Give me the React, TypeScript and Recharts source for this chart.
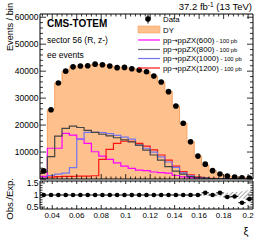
import React from 'react';
import { ComposedChart, Area, Line, Scatter, XAxis, YAxis, ErrorBar } from 'recharts';

const W = 266;
const H = 240;
const FONT = '"Liberation Sans", Arial, Helvetica, sans-serif';

// binning in xi
const binLow = 0.03;
const binWidth = 0.006;
const nBins = 29;
const xMax = 0.204;

// observed data (events / bin)
const dataCounts = [3000, 25700, 35600, 40000, 41600, 41900, 42000, 42600, 42400, 41900, 41300, 41400, 40900, 40400, 39800, 38200, 36000, 32400, 27100, 20700, 13800, 8500, 5500, 3100, 1850, 1100, 740, 480, 370];
// Drell-Yan expectation
const dyCounts = [3000, 25700, 35600, 40000, 41600, 41900, 42000, 42600, 42400, 41900, 41300, 41400, 40900, 40400, 39800, 38200, 36000, 32400, 27100, 20700, 13800, 8500, 5090, 3100, 1710, 1180, 780, 690, 450];
// signals, 100 pb
const sig600 = [1000, 11400, 11400, 16900, 16300, 14800, 13200, 10100, 8500, 7300, 6000, 4800, 3950, 3300, 3100, 2600, 2400, 2200, 1300, 800, 500, 300, 150, 80, 40, 20, 10, 5, 0];
const sig800 = [2500, 8300, 15900, 18800, 19600, 19100, 18000, 17300, 16600, 16000, 15300, 14500, 13800, 12600, 10700, 8900, 7000, 4600, 2900, 1800, 900, 500, 300, 150, 80, 40, 20, 10, 5];
const sig1000 = [300, 1300, 1800, 2200, 4200, 14800, 17300, 17300, 17200, 16800, 16200, 15500, 14800, 12500, 11400, 10000, 8200, 6300, 4300, 2300, 1200, 600, 300, 150, 80, 40, 20, 10, 5];
const sig1200 = [300, 700, 900, 1000, 1000, 1100, 1100, 1200, 7300, 11000, 13200, 14000, 14000, 13200, 12200, 10800, 8900, 7000, 4800, 2700, 1500, 800, 400, 200, 100, 50, 25, 10, 5];
// ratio panel
const ratioVals = [1, 1, 1, 1, 1, 1, 1, 1, 1, 1, 1, 1, 1, 1, 1, 1, 1, 1, 1, 1, 1, 1, 1.09, 1.0, 1.09, 0.92, 0.94, 0.68, 0.83];
const bandRel = [0.01, 0.01, 0.01, 0.01, 0.01, 0.01, 0.01, 0.01, 0.01, 0.01, 0.01, 0.01, 0.01, 0.01, 0.01, 0.01, 0.01, 0.01, 0.015, 0.02, 0.025, 0.03, 0.04, 0.05, 0.07, 0.09, 0.12, 0.16, 0.2];

// tick labels
const xMajor = [0.04, 0.06, 0.08, 0.1, 0.12, 0.14, 0.16, 0.18, 0.2];
const yMajor = [0, 10000, 20000, 30000, 40000, 50000, 60000];
const rMajor = [0.5, 1, 1.5];
const xMinorStep = 0.004;
const yMinorStep = 2000;
const rMinorStep = 0.1;

const xTicks = Array.from({ length: 43 }, (_, i) => Math.round((0.032 + xMinorStep * i) * 1e4) / 1e4);
const yTicks = Array.from({ length: 31 }, (_, i) => i * yMinorStep);
const rTicks = Array.from({ length: 11 }, (_, i) => Math.round((0.5 + rMinorStep * i) * 100) / 100);

const edges = Array.from({ length: nBins + 1 }, (_, k) => Math.round((binLow + binWidth * k) * 1e4) / 1e4);
const histTable = edges.map((x, k) => {
  const i = Math.min(k, nBins - 1);
  return { x, dy: dyCounts[i], s600: sig600[i], s800: sig800[i], s1000: sig1000[i], s1200: sig1200[i], band: [1 - bandRel[i], 1 + bandRel[i]] };
});
const pointsTable = dataCounts.map((y, i) => ({ x: binLow + binWidth * (i + 0.5), y }));
const ratioTable = ratioVals.map((y, i) => ({ x: binLow + binWidth * (i + 0.5), y, ex: binWidth / 2 }));

const findMajor = (v: number, arr: number[]) => arr.find((m) => Math.abs(m - v) < 1e-7);

const PEACH = '#fec08c';
const PEACH_EDGE = '#f5a260';
const C600 = '#ff00ff';
const C800 = '#454545';
const C1000 = '#7575f2';
const C1200 = '#ff1414';

type Side = 'bottom' | 'top' | 'left' | 'right';
const makeTick = (side: Side, majors: number[], majLen: number, minLen: number, labels: boolean, fmt?: (v: number) => string) =>
  (props: any) => {
    const { x, y, payload } = props;
    const v = payload.value;
    const maj = findMajor(v, majors);
    const isMaj = maj !== undefined;
    const len = isMaj ? majLen : minLen;
    let line;
    if (side === 'bottom') line = <line x1={x} y1={y} x2={x} y2={y - len} stroke="#000" strokeWidth={0.8} />;
    else if (side === 'top') line = <line x1={x} y1={y} x2={x} y2={y + len} stroke="#000" strokeWidth={0.8} />;
    else if (side === 'left') line = <line x1={x} y1={y} x2={x + len} y2={y} stroke="#000" strokeWidth={0.8} />;
    else line = <line x1={x} y1={y} x2={x - len} y2={y} stroke="#000" strokeWidth={0.8} />;
    let label = null;
    if (labels && isMaj) {
      const txt = fmt ? fmt(maj as number) : String(maj);
      if (side === 'bottom') label = <text x={x} y={y + 9} textAnchor="middle" fontSize={8} fontFamily={FONT} fill="#000">{txt}</text>;
      if (side === 'left') label = <text x={x - 1.5} y={y + 3} textAnchor="end" fontSize={8.5} fontFamily={FONT} fill="#000">{txt}</text>;
    }
    return <g>{line}{label}</g>;
  };

const dataDot = (props: any) => <circle cx={props.cx} cy={props.cy} r={2.8} fill="#000" />;
const ratioDot = (props: any) => <circle cx={props.cx} cy={props.cy} r={2.3} fill="#000" />;

const legendSignal = (mass: string) => (
  <>
    pp<tspan fontFamily='"DejaVu Sans", sans-serif' fontSize={7}>→</tspan>ppZX({mass})<tspan fontSize={5.8}> - 100 pb</tspan>
  </>
);

export default function App() {
  const axisLine = { stroke: '#000', strokeWidth: 1 };
  return (
    <div style={{ position: 'absolute', left: 0, top: 0, width: W, height: H, background: '#fff', fontFamily: FONT }}>
      <div style={{ position: 'absolute', left: 0, top: 0 }}>
        <ComposedChart width={W} height={H} data={histTable} margin={{ top: 0, right: 0, bottom: 0, left: 0 }}>
          <XAxis dataKey="x" type="number" domain={[binLow, xMax]} ticks={xTicks} interval={0} height={61} tickSize={0} tickMargin={0} tickLine={false} axisLine={axisLine} tick={makeTick('bottom', xMajor, 5, 2.5, false)} allowDataOverflow />
          <XAxis xAxisId="top" orientation="top" dataKey="x" type="number" domain={[binLow, xMax]} ticks={xTicks} interval={0} height={14} tickSize={0} tickMargin={0} tickLine={false} axisLine={axisLine} tick={makeTick('top', xMajor, 5, 2.5, false)} allowDataOverflow />
          <YAxis type="number" domain={[0, 61200]} ticks={yTicks} interval={0} width={40} tickSize={0} tickMargin={0} tickLine={false} axisLine={axisLine} tick={makeTick('left', yMajor, 6, 3, true, (v) => (v === 0 ? '' : String(v)))} allowDataOverflow />
          <YAxis yAxisId="right" orientation="right" type="number" domain={[0, 61200]} ticks={yTicks} interval={0} width={13} tickSize={0} tickMargin={0} tickLine={false} axisLine={axisLine} tick={makeTick('right', yMajor, 6, 3, false)} allowDataOverflow />
          <Area dataKey="dy" type="stepAfter" fill={PEACH} fillOpacity={1} stroke={PEACH_EDGE} strokeWidth={1} isAnimationActive={false} />
          <Line dataKey="s600" type="stepAfter" stroke={C600} strokeWidth={1.2} dot={false} isAnimationActive={false} />
          <Line dataKey="s1200" type="stepAfter" stroke={C1200} strokeWidth={1.2} dot={false} isAnimationActive={false} />
          <Line dataKey="s1000" type="stepAfter" stroke={C1000} strokeWidth={1.2} dot={false} isAnimationActive={false} />
          <Line dataKey="s800" type="stepAfter" stroke={C800} strokeWidth={1.2} dot={false} isAnimationActive={false} />
          <Scatter data={pointsTable} dataKey="y" shape={dataDot} isAnimationActive={false} />
        </ComposedChart>
      </div>
      <div style={{ position: 'absolute', left: 0, top: 0 }}>
        <ComposedChart width={W} height={H} data={histTable} margin={{ top: 0, right: 0, bottom: 0, left: 0 }}>
          <defs>
            <pattern id="hatch" width="3" height="3" patternUnits="userSpaceOnUse" patternTransform="rotate(45)">
              <line x1="0" y1="0" x2="0" y2="3" stroke="#6e6e6e" strokeWidth="1.2" />
            </pattern>
          </defs>
          <XAxis dataKey="x" type="number" domain={[binLow, xMax]} ticks={xTicks} interval={0} height={31} tickSize={0} tickMargin={0} tickLine={false} axisLine={axisLine} tick={makeTick('bottom', xMajor, 4, 2, true)} allowDataOverflow />
          <XAxis xAxisId="top" orientation="top" dataKey="x" type="number" domain={[binLow, xMax]} ticks={xTicks} interval={0} height={181} tickSize={0} tickMargin={0} tickLine={false} axisLine={axisLine} tick={makeTick('top', xMajor, 3, 1.5, false)} allowDataOverflow />
          <YAxis type="number" domain={[0.42, 1.58]} ticks={rTicks} interval={0} width={40} tickSize={0} tickMargin={0} tickLine={false} axisLine={axisLine} tick={makeTick('left', rMajor, 5, 2.5, true)} allowDataOverflow />
          <YAxis yAxisId="right" orientation="right" type="number" domain={[0.42, 1.58]} ticks={rTicks} interval={0} width={13} tickSize={0} tickMargin={0} tickLine={false} axisLine={axisLine} tick={makeTick('right', rMajor, 5, 2.5, false)} allowDataOverflow />
          <Area dataKey="band" type="stepAfter" fill="url(#hatch)" fillOpacity={1} stroke="none" isAnimationActive={false} />
          <Scatter data={ratioTable} dataKey="y" shape={ratioDot} isAnimationActive={false}>
            <ErrorBar dataKey="ex" direction="x" width={0} stroke="#000" strokeWidth={1} />
          </Scatter>
        </ComposedChart>
      </div>
      <svg width={W} height={H} style={{ position: 'absolute', left: 0, top: 0, pointerEvents: 'none' }} fontFamily={FONT}>
        <text x={252} y={10} textAnchor="end" fontSize={9.5} fill="#000">37.2 fb<tspan dy={-3.5} fontSize={6.5}>-1</tspan><tspan dy={3.5}> (13 TeV)</tspan></text>
        <text x={47} y={27} fontSize={10} fontWeight="bold" fill="#000">CMS-TOTEM</text>
        <text x={47} y={43} fontSize={8.5} fill="#000">sector 56 (R, z-)</text>
        <text x={47} y={58} fontSize={8.5} fill="#000">ee events</text>
        <text transform="translate(13,3) rotate(-90)" textAnchor="end" fontSize={9.2} fill="#000">Events / bin</text>
        <text transform="translate(13,178) rotate(-90)" textAnchor="end" fontSize={9.5} fill="#000">Obs./Exp.</text>
        <text x={246} y={235} textAnchor="middle" fontSize={11} fill="#000">ξ</text>
        {/* legend */}
        <line x1={148} y1={14.5} x2={148} y2={23.5} stroke="#000" strokeWidth={1} />
        <circle cx={148} cy={19} r={2.8} fill="#000" />
        <text x={163} y={22} fontSize={7.8} fill="#000">Data</text>
        <rect x={138} y={26} width={22} height={7} fill={PEACH} stroke={PEACH_EDGE} strokeWidth={0.6} />
        <text x={163} y={32.5} fontSize={7.8} fill="#000">DY</text>
        <line x1={138} y1={40} x2={160} y2={40} stroke={C600} strokeWidth={1.2} />
        <text x={163} y={42.8} fontSize={7.8} fill="#000">{legendSignal('600')}</text>
        <line x1={138} y1={49.5} x2={160} y2={49.5} stroke="#707070" strokeWidth={1.2} />
        <text x={163} y={52.3} fontSize={7.8} fill="#000">{legendSignal('800')}</text>
        <line x1={138} y1={58.5} x2={160} y2={58.5} stroke={C1000} strokeWidth={1.2} />
        <text x={163} y={61.3} fontSize={7.8} fill="#000">{legendSignal('1000')}</text>
        <line x1={138} y1={68} x2={160} y2={68} stroke={C1200} strokeWidth={1.2} />
        <text x={163} y={70.8} fontSize={7.8} fill="#000">{legendSignal('1200')}</text>
      </svg>
    </div>
  );
}
